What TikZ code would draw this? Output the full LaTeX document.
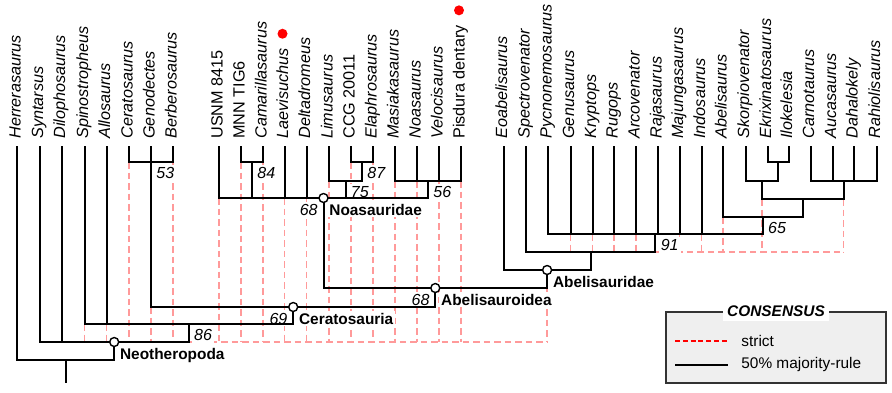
\documentclass[tikz,border=0pt]{standalone}
\usepackage{fontspec}
\setmainfont{Liberation Sans}
\usetikzlibrary{positioning}
\definecolor{strictred}{HTML}{FF9A9A}
\definecolor{keyred}{HTML}{FF0000}
\definecolor{keyfill}{HTML}{EFEFEF}
\definecolor{keyedge}{HTML}{333333}
\tikzset{
  taxon/.style={
    rotate=90, anchor=west, inner xsep=3.5pt, inner ysep=0pt,
    text height=3.5pt, text depth=0pt,
    font=\fontsize{8.1}{9.7}\selectfont\itshape
  },
  majority/.style={
    line width=1pt, color=black
  },
  strict/.style={
    line width=0.75pt, color=strictred, dash pattern=on 3.25pt off 2pt
  },
  supp/.style={
    fill=white, inner sep=1pt, font=\fontsize{8}{9.6}\selectfont\itshape
  },
  clade/.style={
    fill=white, inner sep=1pt, font=\fontsize{7.7}{9.2}\selectfont\bfseries
  },
  cladedot/.style={
    circle, draw, line width=0.7pt, fill=white, inner sep=0pt, minimum size=4.5pt
  },
  fossil/.style={
    circle, fill=red, inner sep=0pt, minimum size=5pt
  },
  legbox/.style={
    rectangle, draw=keyedge, line width=0.85pt, fill=keyfill,
    minimum width=110pt, minimum height=35.5pt, inner sep=0pt
  },
  legtitle/.style={
    fill=white, inner sep=2pt, font=\fontsize{7.7}{9.2}\selectfont\bfseries\itshape
  },
  legtext/.style={
    inner sep=1pt, font=\fontsize{7.7}{9.2}\selectfont
  },
  legstrict/.style={
    line width=0.75pt, color=keyred, dash pattern=on 2.5pt off 1.4pt
  },
}

\begin{document}
\begin{tikzpicture}[x=0.5pt, y=-0.5pt]
  \useasboundingbox (0,0) rectangle (892,392);

  % terminal taxa
  \foreach \x/\n/\t in {17/herr/Herrerasaurus, 39.5/synt/Syntarsus, 61.5/dilo/Dilophosaurus,
      84.5/spin/Spinostropheus, 106.5/allo/Allosaurus, 129/cera/Ceratosaurus,
      151/geno/Genodectes, 173/berb/Berberosaurus, 219/usnm/\textup{USNM 8415},
      241/mnn/\textup{MNN TIG6}, 263/cama/Camarillasaurus, 284.5/laev/Laevisuchus,
      306.5/delt/Deltadromeus, 329/limu/Limusaurus, 351/ccg/\textup{CCG 20011},
      373/elap/Elaphrosaurus, 395/masi/Masiakasaurus, 417/noas/Noasaurus,
      439/velo/Velocisaurus, 461/pisd/\textup{Pisdura dentary},
      503.5/eoab/Eoabelisaurus, 526/spec/Spectrovenator, 548/pycn/Pycnonemosaurus,
      570.5/genu/Genusaurus, 592.5/kryp/Kryptops, 614/rugo/Rugops,
      636/arco/Arcovenator, 658/raja/Rajasaurus, 679.5/maju/Majungasaurus,
      701.5/indo/Indosaurus, 723/abel/Abelisaurus, 745.5/skor/Skorpiovenator,
      767.5/ekri/Ekrixinatosaurus, 788.5/ilok/Ilokelesia, 810.5/carn/Carnotaurus,
      832.5/auca/Aucasaurus, 854/daha/Dahalokely, 876.5/rahi/Rahiolisaurus}
    \node[taxon] (\n) at (\x,146) {\t};

  \node[fossil, above=1pt of laev.east, xshift=-1pt] (laevdot) {};
  \node[fossil, above=1pt of pisd.east, xshift=-1pt] (pisddot) {};

  % clades
  \coordinate (c53)  at (151,162);
  \coordinate (c84)  at (252,162);
  \coordinate (c87)  at (362,162);
  \coordinate (c75)  at (345.5,181);
  \coordinate (c56)  at (428,181);
  \coordinate (noa)  at (323.5,198);
  \coordinate (ek)   at (778,162);
  \coordinate (sk)   at (761.75,181);
  \coordinate (ca)   at (843.5,181);
  \coordinate (c5)   at (802.6,199);
  \coordinate (c65)  at (762.8,217);
  \coordinate (c91)  at (655.4,234);
  \coordinate (ab2)  at (590.7,252);
  \coordinate (abd)  at (547.1,270);
  \coordinate (abo)  at (435.3,288);
  \coordinate (cer)  at (293.2,307);
  \coordinate (c86)  at (188.8,324);
  \coordinate (neo)  at (114.2,342);
  \coordinate (root) at (65.6,360);
  \coordinate (base) at (65.6,383);

  % strict consensus
  \foreach \t/\s in {spin/c86, allo/c86, cera/c53, geno/cer, berb/c53, usnm/noa,
      mnn/c84, cama/c84, laev/noa, delt/noa, limu/c75, ccg/c87, elap/c87,
      masi/c56, noas/c56, velo/c56, pisd/c56}
    \draw[strict] (\t.west |- \s) -- (\t.west |- neo);
  \draw[strict] (abd |- abo) -- (abd |- neo);
  \draw[strict] (spin.west |- neo) -- (abd |- neo);
  \foreach \t/\s in {genu/c91, kryp/c91, rugo/c91, arco/c91, maju/c91, indo/c91, abel/c65}
    \draw[strict] (\t.west |- \s) -- (\t.west |- ab2);
  \draw[strict] (sk |- c5) -- (sk |- ab2);
  \draw[strict] (ca |- c5) -- (ca |- ab2);
  \draw[strict] (c91 |- ab2) -- (ca |- ab2);

  % support values and clade names
  \node[supp, below right=1.5pt and 1.5pt of c53] (s53) {53};
  \node[supp, below right=1.5pt and 1.5pt of c84] (s84) {84};
  \node[supp, below right=1.5pt and 1.5pt of c87] (s87) {87};
  \node[supp, below right=1.5pt and 1.5pt of c75] (s75) {75};
  \node[supp, below right=1.5pt and 1.5pt of c56] (s56) {56};
  \node[supp, below right=1.5pt and 1.5pt of c86] (s86) {86};
  \node[supp, below right=1.5pt and 1.5pt of c91] (s91) {91};
  \node[supp, below right=1.5pt and 1.5pt of c65] (s65) {65};

  \node[clade, below right=1.75pt and 1.75pt of noa] (noaname) {Noasauridae};
  \node[clade, below right=1.75pt and 1.75pt of abo] (aboname) {Abelisauroidea};
  \node[clade, below right=1.75pt and 1.75pt of cer] (cername) {Ceratosauria};
  \node[clade, below right=1.75pt and 1.75pt of neo] (neoname) {Neotheropoda};
  \node[clade, below right=1.75pt and 1.75pt of abd] (abdname) {Abelisauridae};
  \node[supp, left=3.5pt of noaname] (s68a) {68};
  \node[supp, left=3.5pt of aboname] (s68b) {68};
  \node[supp, left=3.5pt of cername] (s69) {69};

  % 50% majority-rule consensus
  \foreach \a/\b in {cera.west/c53, geno.west/c53, berb.west/c53,
      mnn.west/c84, cama.west/c84, ccg.west/c87, elap.west/c87,
      limu.west/c75, c87/c75,
      masi.west/c56, noas.west/c56, velo.west/c56, pisd.west/c56,
      usnm.west/noa, c84/noa, laev.west/noa, delt.west/noa, c75/noa, c56/noa,
      ekri.west/ek, ilok.west/ek, skor.west/sk, ek/sk,
      carn.west/ca, auca.west/ca, daha.west/ca, rahi.west/ca,
      sk/c5, ca/c5, abel.west/c65, c5/c65,
      pycn.west/c91, genu.west/c91, kryp.west/c91, rugo.west/c91, arco.west/c91,
      raja.west/c91, maju.west/c91, indo.west/c91, c65/c91,
      spec.west/ab2, c91/ab2, eoab.west/abd, ab2/abd,
      noa/abo, abd/abo, c53/cer, abo/cer,
      spin.west/c86, allo.west/c86, cer/c86,
      synt.west/neo, dilo.west/neo, c86/neo,
      herr.west/root, neo/root}
    \draw[majority] (\a) |- (\b);
  \draw[majority] (root) -- (base);

  \node[cladedot] (noadot) at (noa) {};
  \node[cladedot] (abodot) at (abo) {};
  \node[cladedot] (cerdot) at (cer) {};
  \node[cladedot] (neodot) at (neo) {};
  \node[cladedot] (abddot) at (abd) {};

  % legend
  \node[legbox] (legend) at (776,347.5) {};
  \node[legtitle] (legtitle) at (legend.north) {CONSENSUS};
  \coordinate (ks1) at (675,341);
  \coordinate (ks2) at (728,341);
  \coordinate (km1) at (675,365);
  \coordinate (km2) at (728,365);
  \draw[legstrict] (ks1) -- (ks2);
  \draw[majority] (km1) -- (km2);
  \node[legtext, right=5.5pt of ks2] (kstrict) {strict};
  \node[legtext, right=5.5pt of km2] (kmaj) {50\% majority-rule};
\end{tikzpicture}
\end{document}
